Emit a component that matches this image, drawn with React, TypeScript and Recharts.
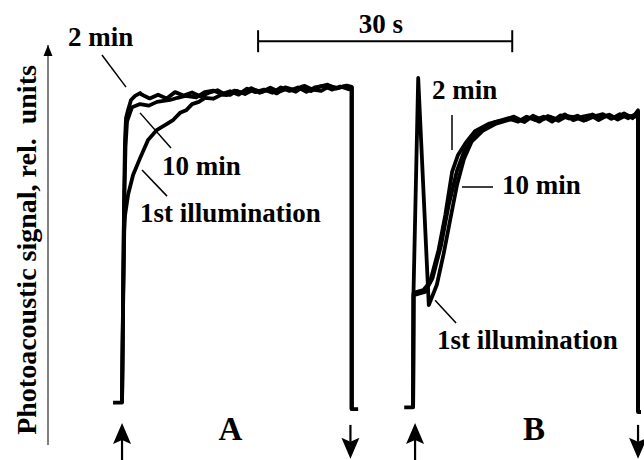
import React from "react";
import { ComposedChart, Line, XAxis, YAxis, ReferenceLine, ReferenceDot, Label } from "recharts";

type Pt = [number, number];

// time (s), photoacoustic signal (rel. units)
const traceA_2min: Pt[] = [
  [7.68, 0.005], [8.74, 0.005], [8.86, 0.331], [8.98, 0.65], [9.09, 0.841], [9.21, 0.911],
  [9.45, 0.936], [9.8, 0.968], [10.28, 0.981], [10.87, 0.99],
  [11, 0.986], [12, 0.973], [13, 0.985], [14, 0.973], [15, 0.993], [16, 0.982], [17, 0.992],
  [18, 0.979], [19, 0.991], [20, 0.999], [21, 0.984], [22, 0.998], [23, 0.99], [24, 1.006],
  [25, 0.991], [26, 1.001], [27, 0.989], [28, 1.008], [29, 1.0], [30, 1.011], [31, 0.996],
  [32, 1.01], [33, 1.017], [34, 1.004], [35, 1.012], [35.85, 1.008], [35.85, -0.016], [36.61, -0.016],
];
const traceA_10min: Pt[] = [
  [8.74, 0.005], [8.86, 0.331], [8.98, 0.62], [9.15, 0.82], [9.33, 0.9], [9.92, 0.945],
  [10.87, 0.955], [11.9, 0.95], [12.87, 0.962], [14.4, 0.968], [15.3, 0.975], [16.2, 0.981],
  [17.5, 0.976], [18.5, 0.993], [19.5, 0.998], [20.5, 0.987], [21.5, 0.996], [22.5, 0.985],
  [23.5, 1.004], [24.5, 0.993], [25.5, 1.001], [26.5, 0.991], [27.5, 1.008], [28.5, 0.997],
  [29.5, 1.008], [30.5, 0.994], [31.5, 1.008], [32.5, 1.013], [33.5, 1.001], [34.5, 1.011],
  [35.5, 1.002], [35.85, 1.006], [35.85, -0.016],
];
const traceA_1st: Pt[] = [
  [8.74, 0.005], [8.86, 0.3], [9.0, 0.55], [9.1, 0.602], [9.45, 0.666], [10.04, 0.729],
  [10.87, 0.783], [11.81, 0.841], [12.87, 0.873], [14.05, 0.892], [14.8, 0.905], [15.59, 0.927],
  [16.3, 0.935], [17.01, 0.955], [17.8, 0.962], [18.54, 0.975], [19.5, 0.972], [20.5, 0.985],
  [21.5, 0.984], [22.25, 0.997], [23.25, 0.987], [24.25, 1.001], [25.25, 0.994], [26.25, 1.007],
  [27.25, 0.994], [28.25, 1.004], [29.25, 0.994], [30.25, 1.013], [31.25, 1.001], [32.25, 0.997],
  [33.25, 1.012], [34.25, 1.006], [35.25, 1.014], [35.85, 1.01], [35.85, -0.016],
];
const traceB_2min: Pt[] = [
  [42.05, -0.01], [43.1, -0.01], [43.15, 0.354], [44.3, 0.363], [45.1, 0.389], [46.1, 0.49],
  [46.9, 0.602], [47.7, 0.739], [48.4, 0.793], [49.3, 0.831], [50.4, 0.869], [52.0, 0.892],
  [53.6, 0.904], [55, 0.915], [56, 0.901], [57, 0.912], [58, 0.899], [59, 0.917], [60, 0.907],
  [61, 0.922], [62, 0.904], [63, 0.914], [64, 0.92], [65, 0.904], [66, 0.919], [67, 0.911],
  [68, 0.925], [69, 0.91], [69.65, 0.935], [69.65, -0.025], [70, -0.025],
];
const traceB_10min: Pt[] = [
  [43.1, -0.01], [43.15, 0.347], [44.5, 0.357], [45.4, 0.401], [46.4, 0.506], [47.3, 0.634],
  [48.3, 0.745], [49.1, 0.803], [50.1, 0.844], [51.2, 0.876], [52.8, 0.898], [54.5, 0.908],
  [55.5, 0.899], [56.5, 0.915], [57.5, 0.904], [58.5, 0.915], [59.5, 0.899], [60.5, 0.919],
  [61.5, 0.909], [62.5, 0.918], [63.5, 0.904], [64.5, 0.916], [65.5, 0.923], [66.5, 0.908],
  [67.5, 0.923], [68.5, 0.91], [69.3, 0.922], [69.65, 0.93], [69.65, -0.025],
];
const traceB_1st: Pt[] = [
  [43.1, -0.01], [43.15, 0.36], [43.7, 1.038], [44.95, 0.315], [45.9, 0.38], [46.7, 0.478],
  [47.5, 0.59], [48.3, 0.7], [49.1, 0.78], [50.0, 0.835], [51.3, 0.87], [52.9, 0.893],
  [54.6, 0.906], [55.25, 0.909], [56.25, 0.898], [57.25, 0.918], [58.25, 0.905], [59.25, 0.914],
  [60.25, 0.902], [61.25, 0.917], [62.25, 0.913], [63.25, 0.902], [64.25, 0.922], [65.25, 0.91],
  [66.25, 0.921], [67.25, 0.906], [68.25, 0.919], [69.25, 0.914], [69.65, 0.928], [69.65, -0.025],
];

const traces: Pt[][] = [traceA_2min, traceA_10min, traceA_1st, traceB_2min, traceB_10min, traceB_1st];

// light on / off times (s)
const lightOn = [8.74, 43.33];
const lightOff = [35.7, 69.65];
const panelLabels = ["A", "B"];
const panelLabelTimes = [21.54, 57.37];

const yLabel = "Photoacoustic signal, rel.  units";
const scaleBar = { start: 24.8, length: 30, text: "30 s" };

const FONT = "'Liberation Serif', 'Times New Roman', serif";

const toRows = (pts: Pt[]) => pts.map(([t, v]) => ({ t, v }));

const arrowShape = (head: number, half: number, sw: number) => (p: any) => {
  const { x1, y1, x2, y2 } = p;
  const dir = Math.sign(y2 - y1) || 1;
  const base = y2 - dir * head;
  const notch = y2 - dir * (head - 4);
  return (
    <g>
      <line x1={x1} y1={y1} x2={x2} y2={notch} stroke="#000" strokeWidth={sw} />
      <polygon
        points={`${x2},${y2} ${x2 - half},${base} ${x2},${notch} ${x2 + half},${base}`}
        fill="#000"
      />
    </g>
  );
};

const scaleBarShape = (p: any) => {
  const { x1, y1, x2, y2 } = p;
  return (
    <g stroke="#000" strokeWidth={2}>
      <line x1={x1} y1={y1} x2={x2} y2={y2} />
      <line x1={x1} y1={y1 - 11} x2={x1} y2={y1 + 11} />
      <line x1={x2} y1={y2 - 11} x2={x2} y2={y2 + 11} />
    </g>
  );
};

const textShape = (text: string, size: number, anchor: "start" | "middle" = "start") => (p: any) => (
  <text
    x={p.cx}
    y={p.cy}
    fontFamily={FONT}
    fontWeight="bold"
    fontSize={size}
    textAnchor={anchor}
    fill="#000"
  >
    {text}
  </text>
);

const axisHead = (p: any) => (
  <polygon points={`${p.cx},${p.cy} ${p.cx - 4.5},${p.cy + 11} ${p.cx + 4.5},${p.cy + 11}`} fill="#000" />
);

const renderYLabel = (props: any) => {
  const vb = props.viewBox || { x: 0, y: 45, width: 48, height: 400 };
  const cx = vb.x + 36;
  const cy = vb.y + vb.height / 2 + 5;
  return (
    <text
      x={cx}
      y={cy}
      transform={`rotate(-90, ${cx}, ${cy})`}
      textAnchor="middle"
      fontFamily={FONT}
      fontWeight="bold"
      fontSize={28}
      fill="#000"
      style={{ whiteSpace: "pre" }}
    >
      {yLabel}
    </text>
  );
};

const annotations = [
  { text: "2 min", t: 2.36, v: 1.14, from: [6.37, 1.111], to: [9.21, 1.009] },
  { text: "10 min", t: 13.46, v: 0.729, from: [10.86, 0.927], to: [14.52, 0.815] },
  { text: "1st illumination", t: 10.86, v: 0.58, from: [11.1, 0.745], to: [14.05, 0.662] },
  { text: "2 min", t: 45.33, v: 0.971, from: [47.69, 0.92], to: [47.69, 0.809] },
  { text: "10 min", t: 53.59, v: 0.669, from: [48.87, 0.691], to: [52.53, 0.691] },
  { text: "1st illumination", t: 45.92, v: 0.176, from: [45.69, 0.331], to: [48.17, 0.258] },
];

export default function App() {
  return (
    <div style={{ position: "absolute", left: 0, top: 0, background: "#fff" }}>
      <ComposedChart width={644} height={460} margin={{ top: 45, right: 3, bottom: 15, left: 0 }}>
        <XAxis type="number" dataKey="t" domain={[0, 70]} hide allowDataOverflow />
        <YAxis
          type="number"
          domain={[-0.13, 1.143]}
          width={48}
          tick={false}
          tickLine={false}
          axisLine={{ stroke: "#000", strokeWidth: 1 }}
        >
          <Label content={renderYLabel} />
        </YAxis>
        {traces.map((tr, i) => (
          <Line
            key={i}
            data={toRows(tr)}
            dataKey="v"
            type="linear"
            dot={false}
            activeDot={false}
            stroke="#000"
            strokeWidth={3.8}
            strokeLinejoin="round"
            isAnimationActive={false}
          />
        ))}
        <ReferenceDot x={0} y={1.143} ifOverflow="visible" shape={axisHead} />
        <ReferenceLine
          segment={[
            { x: scaleBar.start, y: 1.155 },
            { x: scaleBar.start + scaleBar.length, y: 1.155 },
          ]}
          ifOverflow="visible"
          shape={scaleBarShape}
        />
        <ReferenceDot
          x={scaleBar.start + scaleBar.length / 2 - 0.5}
          y={1.181}
          ifOverflow="visible"
          shape={textShape(scaleBar.text, 27, "middle")}
        />
        {annotations.map((a, i) => (
          <ReferenceLine
            key={"l" + i}
            segment={[
              { x: a.from[0], y: a.from[1] },
              { x: a.to[0], y: a.to[1] },
            ]}
            stroke="#000"
            strokeWidth={1.5}
            ifOverflow="visible"
          />
        ))}
        {annotations.map((a, i) => (
          <ReferenceDot key={"t" + i} x={a.t} y={a.v} ifOverflow="visible" shape={textShape(a.text, 27)} />
        ))}
        {lightOn.map((t, i) => (
          <ReferenceLine
            key={"on" + i}
            segment={[
              { x: t, y: -0.178 },
              { x: t, y: -0.06 },
            ]}
            ifOverflow="visible"
            shape={arrowShape(21, 9, 2.2)}
          />
        ))}
        {lightOff.map((t, i) => (
          <ReferenceLine
            key={"off" + i}
            segment={[
              { x: t, y: -0.066 },
              { x: t, y: -0.174 },
            ]}
            ifOverflow="visible"
            shape={arrowShape(21, 9, 2.2)}
          />
        ))}
        {panelLabels.map((p, i) => (
          <ReferenceDot
            key={"p" + i}
            x={panelLabelTimes[i]}
            y={-0.114}
            ifOverflow="visible"
            shape={textShape(p, 33, "middle")}
          />
        ))}
      </ComposedChart>
    </div>
  );
}
